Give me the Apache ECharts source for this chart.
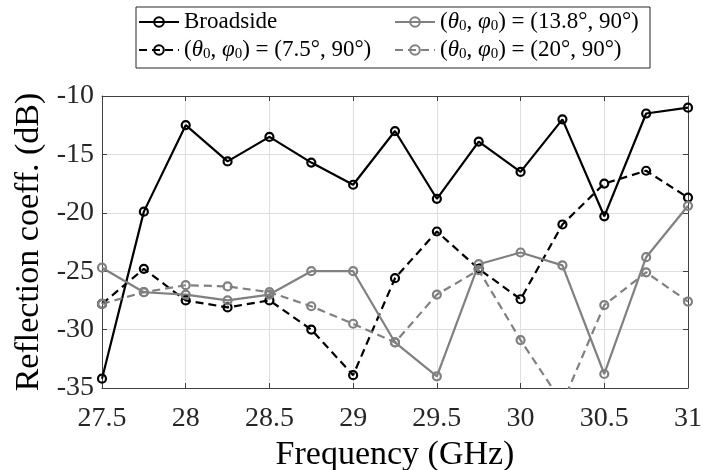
<!DOCTYPE html>
<html>
<head>
<meta charset="utf-8">
<script src="https://cdn.jsdelivr.net/npm/echarts@6/dist/echarts.min.js"></script>
<style>html,body{margin:0;padding:0;background:#fff}#c{width:703px;height:470px}</style>
</head>
<body>
<div id="c"></div>
<script>
const freq = [27.5, 27.75, 28, 28.25, 28.5, 28.75, 29, 29.25, 29.5, 29.75, 30, 30.25, 30.5, 30.75, 31];
const broadside = [-34.2, -19.9, -12.5, -15.6, -13.5, -15.7, -17.6, -13.0, -18.8, -13.9, -16.5, -12.0, -20.3, -11.5, -11.0];
const steer75 = [-27.8, -24.8, -27.5, -28.1, -27.5, -30.0, -33.9, -25.6, -21.6, -24.8, -27.4, -21.0, -17.5, -16.4, -18.7];
const steer138 = [-24.7, -26.8, -27.0, -27.5, -27.0, -25.0, -25.0, -31.1, -34.0, -24.4, -23.4, -24.5, -33.8, -23.8, -19.4];
const steer20 = [-27.8, -26.8, -26.2, -26.3, -26.8, -28.0, -29.5, -31.1, -27.0, -24.9, -30.9, -36.3, -27.9, -25.1, -27.6];
const xTicks = [27.5, 28, 28.5, 29, 29.5, 30, 30.5, 31];
const yTicks = [-35, -30, -25, -20, -15, -10];
const names = ['Broadside', '7.5', '13.8', '20'];

const FONT = '"Liberation Serif", "DejaVu Serif", serif';
const BLACK = '#000000';
const GRAY = '#808080';
const zip = (ys) => freq.map((x, i) => [x, ys[i]]);

function mk(name, ys, color, dashed) {
  return {
    name: name, type: 'line', data: zip(ys), clip: true,
    symbol: 'circle', symbolSize: 8,
    lineStyle: { color: color, width: 2.2, type: dashed ? [8, 5] : 'solid' },
    itemStyle: { color: 'rgba(255,255,255,0)', borderColor: color, borderWidth: 2.2 },
    emphasis: { disabled: true }, animation: false
  };
}

const axisCommon = {
  axisLine: { show: true, lineStyle: { color: '#404040', width: 1 } },
  axisTick: { show: true, inside: true, length: 5, lineStyle: { color: '#404040', width: 1 } }
};

const chart = echarts.init(document.getElementById('c'), null, { renderer: 'canvas' });
chart.setOption({
  backgroundColor: '#ffffff',
  animation: false,
  grid: { left: 102, right: 15, top: 96, bottom: 82, containLabel: false, outerBoundsMode: 'none' },
  legend: {
    data: [names[0], names[2], names[1], names[3]],
    left: 136, top: 7, width: 519,
    orient: 'horizontal',
    backgroundColor: '#ffffff', borderColor: '#262626', borderWidth: 1,
    padding: [3, 4, 6, 2],
    itemWidth: 40, itemHeight: 12, itemGap: 4,
    formatter: function (n) {
      if (n === 'Broadside') return 'Broadside';
      return '({i|θ}{s|0}, {i|φ}{s|0}) = (' + n + '°, 90°)';
    },
    textStyle: {
      fontFamily: FONT, fontSize: 23, color: '#000', width: 206, lineHeight: 24,
      rich: {
        i: { fontFamily: FONT, fontSize: 23, fontStyle: 'italic', color: '#000' },
        s: { fontFamily: FONT, fontSize: 15, color: '#000', verticalAlign: 'bottom', padding: [8, 0, 0, 0] }
      }
    }
  },
  xAxis: [
    Object.assign({
      type: 'value', min: 27.5, max: 31, interval: 0.5, position: 'bottom',
      name: 'Frequency (GHz)', nameLocation: 'middle', nameGap: 43,
      nameTextStyle: { fontFamily: FONT, fontSize: 34, color: '#000' },
      axisLabel: { show: true, fontFamily: FONT, fontSize: 28, color: '#262626', margin: 17,
        formatter: (v) => xTicks.includes(v) ? String(v) : '' },
      splitLine: { show: true, lineStyle: { color: '#dedede', width: 1 } }
    }, axisCommon),
    Object.assign({
      type: 'value', min: 27.5, max: 31, interval: 0.5, position: 'top',
      axisLabel: { show: false }, splitLine: { show: false }
    }, axisCommon)
  ],
  yAxis: [
    Object.assign({
      type: 'value', min: -35, max: -10, interval: 5, position: 'left',
      name: 'Reflection coeff. (dB)', nameLocation: 'middle', nameGap: 56, nameRotate: 90,
      nameTextStyle: { fontFamily: FONT, fontSize: 34, color: '#000' },
      axisLabel: { show: true, fontFamily: FONT, fontSize: 28, color: '#262626', margin: 8,
        formatter: (v) => yTicks.includes(v) ? String(v) : '' },
      splitLine: { show: true, lineStyle: { color: '#dedede', width: 1 } }
    }, axisCommon),
    Object.assign({
      type: 'value', min: -35, max: -10, interval: 5, position: 'right',
      axisLabel: { show: false }, splitLine: { show: false }
    }, axisCommon)
  ],
  series: [
    mk(names[0], broadside, BLACK, false),
    mk(names[1], steer75, BLACK, true),
    mk(names[2], steer138, GRAY, false),
    mk(names[3], steer20, GRAY, true)
  ]
});
</script>
</body>
</html>
